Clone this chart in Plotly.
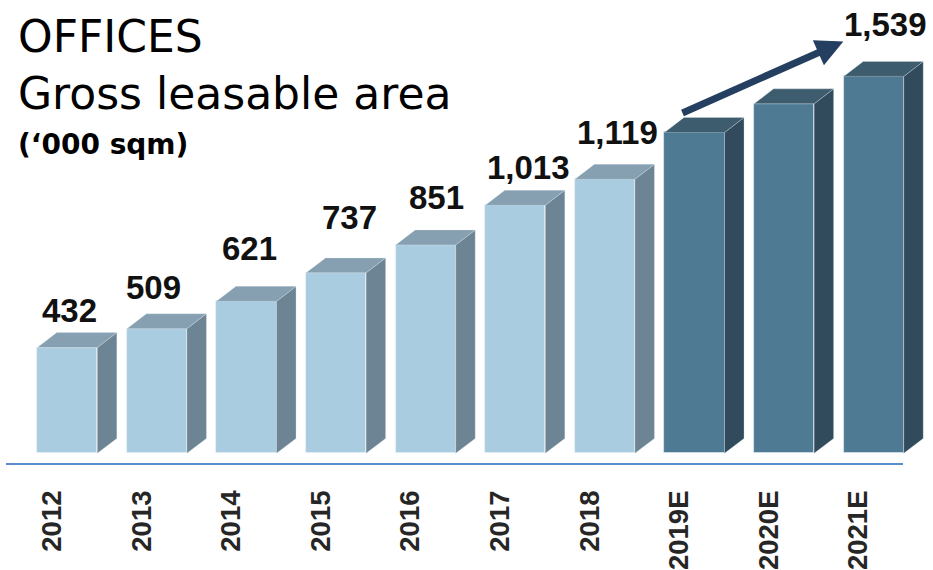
import plotly.graph_objects as go

# Office portfolio: gross leasable area, thousand sqm
years = ["2012", "2013", "2014", "2015", "2016", "2017", "2018", "2019E", "2020E", "2021E"]
gla = [432, 509, 621, 737, 851, 1013, 1119, 1310, 1427, 1539]
value_labels = ["432", "509", "621", "737", "851", "1,013", "1,119", "", "", "1,539"]
is_forecast = [False] * 7 + [True] * 3

# styling
FRONT = {False: "#AACCE0", True: "#4E7B93"}
SIDE = {False: "#6C8494", True: "#314B5D"}
TOP = {False: "#86A0B2", True: "#3D5C6E"}
ARROW = "#243F60"
AXIS_BLUE = "#5B8BD0"

W, H = 933, 570
PX_PER_CAT = 89.6          # horizontal pixels per category
PX_PER_UNIT = 0.246        # vertical pixels per thousand sqm
BAR_W = 0.67               # front face width (category units)
DEPTH_X = 19.5 / PX_PER_CAT  # 3-D depth offset, horizontal
DEPTH_Y = 15 / PX_PER_UNIT   # 3-D depth offset, vertical

# plot area geometry
BOTTOM_MARGIN = 104
plot_h = H - BOTTOM_MARGIN
base_px = 455.3
y_lo = -(plot_h - base_px) / PX_PER_UNIT
y_hi = y_lo + plot_h / PX_PER_UNIT
first_px = 67.3
x_lo = -first_px / PX_PER_CAT
x_hi = x_lo + W / PX_PER_CAT

xs = list(range(len(years)))

fig = go.Figure()

# front faces
fig.add_trace(go.Bar(
    x=xs, y=gla, width=BAR_W,
    marker=dict(color=[FRONT[f] for f in is_forecast],
                line=dict(color="rgba(235,242,248,0.7)", width=0.8)),
    hoverinfo="skip", showlegend=False,
))

# side and top faces as filled polygons
for fc in (False, True):
    sx, sy, tx, ty = [], [], [], []
    for x, v, f in zip(xs, gla, is_forecast):
        if f != fc:
            continue
        r = x + BAR_W / 2
        l = x - BAR_W / 2
        sx += [r, r + DEPTH_X, r + DEPTH_X, r, r, None]
        sy += [0, DEPTH_Y, v + DEPTH_Y, v, 0, None]
        tx += [l, r, r + DEPTH_X, l + DEPTH_X, l, None]
        ty += [v, v, v + DEPTH_Y, v + DEPTH_Y, v, None]
    fig.add_trace(go.Scatter(x=sx, y=sy, mode="lines", fill="toself",
                             fillcolor=SIDE[fc], line=dict(color="rgba(220,230,238,0.5)", width=0.6),
                             hoverinfo="skip", showlegend=False))
    fig.add_trace(go.Scatter(x=tx, y=ty, mode="lines", fill="toself",
                             fillcolor=TOP[fc], line=dict(color="rgba(220,230,238,0.5)", width=0.6),
                             hoverinfo="skip", showlegend=False))

annotations = []

# value labels above the bars (pixel nudges per label)
nudge_x = [2, -3, 3, 13, 11, 13, 13, 0, 0, 12]
nudge_y = [37, 41, 53, 55, 47, 38, 47, 0, 0, 52]
for x, v, txt, dxp, dyp in zip(xs, gla, value_labels, nudge_x, nudge_y):
    if not txt:
        continue
    annotations.append(dict(
        x=x, y=v, xref="x", yref="y", text=txt, showarrow=False,
        xanchor="center", yanchor="middle", xshift=dxp, yshift=dyp,
        font=dict(family="Liberation Sans, Arial, sans-serif",
                  size=33, color="#111111", weight="bold"),
    ))

# growth arrow over the forecast years
annotations.append(dict(
    x=8.661, y=1681, ax=6.849, ay=1387, xref="x", yref="y", axref="x", ayref="y",
    text="", showarrow=True, arrowhead=2, arrowsize=0.78, arrowwidth=7,
    arrowcolor=ARROW, standoff=0, startstandoff=0,
))

# title block
def py(p):
    return (plot_h - p) / plot_h

title_font = "DejaVu Sans, Open Sans, sans-serif"
annotations += [
    dict(x=16 / W, y=py(36.5), xref="paper", yref="paper", text="OFFICES",
         showarrow=False, xanchor="left", yanchor="middle",
         font=dict(family=title_font, size=44, color="#000000")),
    dict(x=16 / W, y=py(94), xref="paper", yref="paper", text="Gross leasable area",
         showarrow=False, xanchor="left", yanchor="middle",
         font=dict(family=title_font, size=44, color="#000000")),
    dict(x=16 / W, y=py(145), xref="paper", yref="paper", text="(\u2018000 sqm)",
         showarrow=False, xanchor="left", yanchor="middle",
         font=dict(family=title_font, size=28, color="#000000", weight="bold")),
]

fig.update_layout(
    width=W, height=H,
    margin=dict(l=0, r=0, t=0, b=BOTTOM_MARGIN, pad=0),
    paper_bgcolor="white", plot_bgcolor="white",
    bargap=0, showlegend=False,
    annotations=annotations,
    shapes=[dict(type="line", xref="x", yref="paper",
                 x0=(6 - first_px) / PX_PER_CAT, x1=(903 - first_px) / PX_PER_CAT,
                 y0=0, y1=0, line=dict(color=AXIS_BLUE, width=2))],
    xaxis=dict(range=[x_lo, x_hi], showgrid=False, zeroline=False, showline=False,
               tickmode="array", tickvals=[x - 0.17 for x in xs], ticktext=years,
               tickangle=-90, ticks="", ticklabelstandoff=20,
               tickfont=dict(family="Liberation Sans, Arial, sans-serif", size=27.5,
                             color="#262626", weight="bold")),
    yaxis=dict(range=[y_lo, y_hi], showgrid=False, zeroline=False, showline=False,
               showticklabels=False, ticks=""),
)

fig.write_html("out.html")
